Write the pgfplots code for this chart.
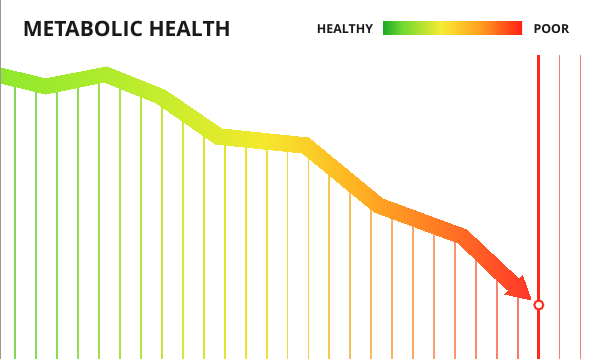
\documentclass[border=0pt]{standalone}
\usepackage{fontspec}
\setmainfont{Open Sans}
\usepackage{pgfplots}
\pgfplotsset{compat=1.18}
\definecolor{titlec}{RGB}{26,26,26}
\definecolor{redline}{RGB}{255,40,25}
\definecolor{pinkline}{RGB}{248,120,120}
\pgfplotsset{
  colormap={linemap}{rgb255=(125,214,90) rgb255=(150,222,80) rgb255=(205,232,55) rgb255=(242,224,40) rgb255=(250,190,95) rgb255=(250,155,110) rgb255=(248,115,100)},
  colormap={bandmap}{rgb255=(140,232,45) rgb255=(170,235,45) rgb255=(205,236,45) rgb255=(245,232,45) rgb255=(255,180,35) rgb255=(255,120,35) rgb255=(255,55,40)},
}
\pgfdeclarehorizontalshading{legendshade}{100bp}{rgb(0bp)=(0.10,0.67,0.16); rgb(25bp)=(0.10,0.67,0.16); rgb(32bp)=(0.45,0.85,0.18); rgb(46bp)=(0.97,0.92,0.20); rgb(60bp)=(1,0.62,0.12); rgb(75bp)=(1,0.12,0.08); rgb(100bp)=(1,0.12,0.08)}
\begin{document}
\begin{tikzpicture}
\begin{axis}[
  scale only axis, width=15cm, height=8.975cm,
  xmin=0, xmax=600, ymin=0, ymax=359, y dir=reverse,
  axis lines=none, clip=true, clip bounding box=upper bound,
  colormap name=bandmap,
  point meta min=0, point meta max=530,
]
\path (axis cs:0,0) rectangle (axis cs:600,359);
% vertical lines under the band
\addplot[colormap name=linemap, point meta=x, quiver={u=0, v=\thisrow{v}, colored=mapped color, every arrow/.append style={line width=1.3pt}}] table {
x y v
15.3 79 280
36.2 84 275
57.2 83.5 275.5
78.1 79.3 279.7
99.1 75.1 283.9
120.0 80.1 278.9
140.9 88.5 270.5
161.9 97.6 261.4
182.8 112.1 246.9
203.8 126.5 232.5
224.7 136.8 222.2
245.6 138.9 220.1
266.6 141.1 217.9
287.5 143.3 215.7
308.5 148.5 210.5
329.4 165.8 193.2
350.3 183.1 175.9
371.3 200.3 158.7
392.2 210.6 148.4
413.2 218.4 140.6
434.1 226.1 132.9
455.0 233.9 125.1
476.0 250.4 108.6
496.9 270.2 88.8
517.9 290 69
};
% right-hand lines
\addplot[pinkline, line width=1.1pt] coordinates {(559.7,55) (559.7,359)};
\addplot[pinkline, line width=1.1pt] coordinates {(580.7,55) (580.7,359)};
\addplot[redline, line width=2.2pt] coordinates {(538.8,55) (538.8,359)};
% band
\addplot[surf, shader=interp, point meta=x] table {
x y
-8.1 64.8
45.2 77.8
105.8 65.7
163.8 88.9
220.9 128.3
308.2 137.3
382.0 198.0
466.3 229.1
518.5 278.2

-11.9 80.4
44.8 94.2
104.2 82.3
156.2 103.1
215.1 143.7
301.8 152.7
374.0 212.0
457.7 242.9
507.5 289.8
};
% arrow head
\addplot[patch, shader=interp, point meta=x] coordinates {(521.9,274.5) (530.5,300.4) (504.1,293.5)};
% marker
\addplot[only marks, mark=*, mark size=3.2pt, mark options={fill=white, draw=redline, line width=1.4pt}] coordinates {(538.8,305)};
% left border
\draw[gray!80, line width=0.8pt] (axis cs:0.4,0) -- (axis cs:0.4,359);
% title and legend
\node[anchor=west, inner sep=0, text=titlec, font=\bfseries\fontsize{15}{18}\selectfont] at (axis cs:22.5,29.2) {METABOLIC HEALTH};
\node[anchor=west, inner sep=0, text=titlec, font=\bfseries\fontsize{8.8}{10}\selectfont] at (axis cs:316.7,28.7) {HEALTHY};
\node[anchor=west, inner sep=0, text=titlec, font=\bfseries\fontsize{8.8}{10}\selectfont] at (axis cs:533.3,28.7) {POOR};
\shade[shading=legendshade] (axis cs:383,21) rectangle (axis cs:522,34);
\end{axis}
\end{tikzpicture}
\end{document}
